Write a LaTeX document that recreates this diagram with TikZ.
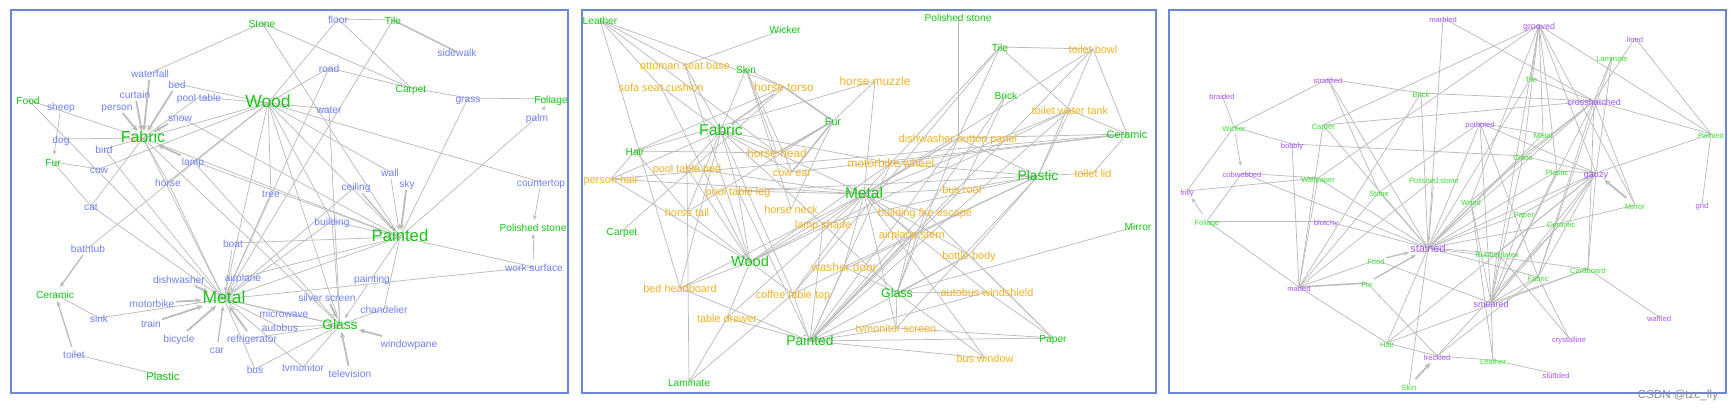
\documentclass[tikz,border=0pt]{standalone}
\usepackage{fontspec}
\setmainfont{Liberation Sans}
\usetikzlibrary{arrows.meta,backgrounds}
\definecolor{bl}{RGB}{112,128,250}
\definecolor{gr}{RGB}{20,200,20}
\definecolor{grc}{RGB}{60,225,50}
\definecolor{orn}{RGB}{245,178,35}
\definecolor{pur}{RGB}{165,85,255}
\definecolor{eg}{RGB}{188,188,188}
\definecolor{fr}{RGB}{105,135,210}
\definecolor{wm}{RGB}{140,140,140}
\newcommand\fsz[1]{\fontsize{#1}{#1}\selectfont}
\tikzset{
 lab/.style={inner sep=1pt,text height=1.05em,text depth=0.1em},
 bA/.style={lab,text=bl,font=\fsz{10.2}},
 gA/.style={lab,text=gr,font=\fsz{10.2}},
 oB/.style={lab,text=orn,font=\fsz{10.9}},
 gB/.style={lab,text=gr,font=\fsz{10.2}},
 pC/.style={lab,text=pur,font=\fsz{7.6}},
 gC/.style={lab,text=grc,font=\fsz{7.6}},
 e/.style={draw=eg,line width=0.75pt},
 ta/.style={draw=eg,line width=0.75pt,-{Stealth[length=5pt,width=4pt]}},
 ma/.style={draw=eg,line width=1.3pt,-{Stealth[length=5.5pt,width=4.5pt]}},
 ea/.style={draw=eg,line width=1.8pt,-{Stealth[length=6pt,width=5.5pt]}},
 tk/.style={draw=eg,line width=1.5pt},
 frame/.style={draw=fr,line width=1.3pt}
}
\begin{document}
\begin{tikzpicture}[x=1pt,y=-1pt]
\useasboundingbox (0,0) rectangle (1735,412);
\draw[frame] (11,10) rectangle (568,393);
\draw[frame] (582,10) rectangle (1156,393);
\draw[frame] (1169,10) rectangle (1726,393);
% ---------------- Panel A ----------------
\foreach \n/\x/\y/\t in {floor/338/19/floor, sidewalk/457/52/sidewalk, road/329/68/road, waterfall/150/73/waterfall, bed/177/84/bed, curtain/135/94/curtain, pooltable/199/97/pool table, grass/468/98/grass, sheep/61/106/sheep, person/117/106/person, water/329/109/water, palm/537/117/palm, snow/180/117/snow, dog/61/139/dog, bird/104/149/bird, lamp/193/161/lamp, cow/99/169/cow, wall/390/172/wall, horse/168/182/horse, countertop/541/182/countertop, sky/407/183/sky, ceiling/356/186/ceiling, tree/271/193/tree, cat/91/206/cat, building/332/221/building, boat/233/243/boat, bathtub/88/248/bathtub, worksurface/534/267/work surface, painting/372/278/painting, airplane/243/277/airplane, dishwasher/179/279/dishwasher, silverscreen/327/297/silver screen, motorbike/152/303/motorbike, chandelier/384/309/chandelier, microwave/284/313/microwave, sink/99/318/sink, train/151/323/train, autobus/280/327/autobus, refrigerator/252/338/refrigerator, bicycle/179/338/bicycle, windowpane/409/343/windowpane, car/217/349/car, toilet/74/354/toilet, tvmonitor/303/367/tvmonitor, bus/255/369/bus, television/350/373/television}
  \node[bA] (A\n) at (\x,\y) {\t};
\foreach \n/\x/\y/\t in {stone/262/23/Stone, tile/393/20/Tile, carpet/411/88/Carpet, foliage/551/99/Foliage, food/28/100/Food, fur/53/162/Fur, ceramic/55/294/Ceramic, polished/533/227/Polished stone}
  \node[gA] (A\n) at (\x,\y) {\t};
\node[gA,font=\fsz{11.3}] (Aplastic) at (163,376) {Plastic};
\node[gA,font=\fsz{17.5}] (Awood) at (268,103) {Wood};
\node[gA,font=\fsz{16}] (Afabric) at (143,138) {Fabric};
\node[gA,font=\fsz{17.5}] (Ametal) at (224,299) {Metal};
\node[gA,font=\fsz{16.7}] (Apainted) at (400,237) {Painted};
\node[gA,font=\fsz{13.8}] (Aglass) at (340,325) {Glass};
% ---------------- Panel B ----------------
\foreach \n/\x/\y/\t in {ottoman/685/65/ottoman seat base, sofa/661/87/sofa seat cushion, toiletbowl/1093/49/toilet bowl, tank/1070/110/toilet water tank, dishpanel/958/138/dishwasher button panel, ptbed/687/168/pool table bed, phair/611/179/person hair, toiletlid/1093/173/toilet lid, ptleg/738/191/pool table leg, busroof/962/189/bus roof, hneck/791/209/horse neck, htail/687/212/horse tail, fire/925/212/building fire escape, lampshade/823/224/lamp shade, stern/912/234/airplane stern, bottle/969/255/bottle body, bedhead/680/288/bed headboard, windshield/987/292/autobus windshield, coffee/793/294/coffee table top, drawer/727/318/table drawer, tvscreen/896/328/tvmonitor screen, buswin/985/358/bus window, cowear/792/172/cow ear}
  \node[oB] (B\n) at (\x,\y) {\t};
\foreach \n/\x/\y/\t in {torso/784/87/horse torso, muzzle/875/81/horse muzzle, hhead/777/153/horse head, wheel/891/163/motorbike wheel, washer/844/267/washer door}
  \node[oB,font=\fsz{11.9}] (B\n) at (\x,\y) {\t};
\foreach \n/\x/\y/\t in {leather/600/20/Leather, wicker/785/29/Wicker, skin/746/69/Skin, polished/958/17/Polished stone, tile/1000/47/Tile, brick/1006/95/Brick, hair/635/151/Hair, carpet/622/231/Carpet, mirror/1138/226/Mirror, paper/1053/338/Paper, laminate/689/382/Laminate}
  \node[gB] (B\n) at (\x,\y) {\t};
\node[gB,font=\fsz{10.9}] (Bceramic) at (1127,134) {Ceramic};
\node[gB,font=\fsz{10.7}] (Bfur) at (833,121) {Fur};
\node[gB,font=\fsz{15.7}] (Bfabric) at (721,131) {Fabric};
\node[gB,font=\fsz{15.5}] (Bmetal) at (864,194) {Metal};
\node[gB,font=\fsz{14.6}] (Bwood) at (750,262) {Wood};
\node[gB,font=\fsz{13.9}] (Bpainted) at (810,341) {Painted};
\node[gB,font=\fsz{12.5}] (Bglass) at (897,293) {Glass};
\node[gB,font=\fsz{13.8}] (Bplastic) at (1038,176) {Plastic};
% ---------------- Panel C ----------------
\foreach \n/\x/\y/\t in {marbled/1443/18/marbled, stratified/1328/79/stratified, braided/1222/95/braided, bobbly/1292/144/bobbly, cobwebbed/1242/173/cobwebbed, frilly/1187/191/frilly, lined/1635/38/lined, potholed/1480/123/potholed, grid/1702/204/grid, blotchy/1326/221/blotchy, matted/1299/287/matted, freckled/1437/356/freckled, waffled/1659/317/waffled, crystalline/1569/338/crystalline, studded/1556/374/studded}
  \node[pC] (C\n) at (\x,\y) {\t};
\node[pC,font=\fsz{8.8}] (Cgrooved) at (1539,25) {grooved};
\node[pC,font=\fsz{9}] (Ccrosshatched) at (1594,101) {crosshatched};
\node[pC,font=\fsz{9.1}] (Cgauzy) at (1596,173) {gauzy};
\node[pC,font=\fsz{9}] (Csmeared) at (1491,303) {smeared};
\node[pC,font=\fsz{10.9}] (Cstained) at (1428,248) {stained};
\foreach \n/\x/\y/\t in {brick/1421/93/Brick, wicker/1234/127/Wicker, carpet/1323/125/Carpet, wallpaper/1318/178/Wallpaper, stone/1379/192/Stone, polished/1434/179/Polished stone, laminate/1612/57/Laminate, tile/1531/78/Tile, metal/1543/134/Metal, painted/1711/134/Painted, glass/1523/156/Glass, plastic/1557/171/Plastic, mirror/1635/205/Mirror, wood/1471/201/Wood, foliage/1207/221/Foliage, food/1376/260/Food, fur/1367/283/Fur, hair/1387/343/Hair, skin/1409/386/Skin, paper/1524/213/Paper, ceramic/1561/223/Ceramic, rubber/1497/253/{Rubber/latex}, cardboard/1588/269/Cardboard, fabric/1538/277/Fabric, leather/1493/360/Leather}
  \node[gC] (C\n) at (\x,\y) {\t};
\node[text=wm,font=\fsz{11.5},inner sep=0pt] (wmark) at (1678,396) {CSDN @tzc\_fly};
% ---------------- Edges ----------------
\begin{scope}[on background layer]
\foreach \p/\q in {stone/waterfall, stone/carpet, stone/painted, floor/tile, floor/carpet, floor/wood, road/wood, road/carpet, road/metal, carpet/grass, grass/foliage, grass/painted, tile/metal, water/wood, wood/countertop, wood/wall, wood/painted, wood/tree, wood/metal, wood/glass, wood/building, wood/horse, wood/cow, wood/bathtub, wood/bed, wood/pooltable, wood/fabric, food/fabric, food/metal, dog/fabric, bird/fabric, bird/metal, cat/fabric, cat/metal, fur/cow, fur/cat, pooltable/fabric, fabric/painted, fabric/metal, fabric/glass, snow/painted, lamp/painted, tree/metal, sink/ceramic, sink/metal, toilet/plastic, boat/painted, airplane/painted, metal/painted, metal/worksurface, metal/building, metal/glass, building/glass, building/painted, painting/painted, chandelier/painted, chandelier/glass, tvmonitor/glass, tvmonitor/metal, bus/glass, bus/metal, refrigerator/glass, autobus/glass, microwave/glass, microwave/metal, autobus/metal, painted/worksurface, palm/painted, water/glass, horse/metal, horse/fabric, ceiling/metal, lamp/glass}
  \draw[e] (A\p.center) -- (A\q.center);
\foreach \p/\q in {waterfall/fabric, curtain/fabric, bed/fabric, person/fabric, snow/fabric, lamp/fabric, dishwasher/metal, motorbike/metal, train/metal, bicycle/metal, refrigerator/metal, sky/painted, windowpane/glass, television/glass, silverscreen/glass}
  \draw[ea] (A\p) -- (A\q);
\foreach \p/\q in {car/metal, ceiling/painted, bathtub/ceramic, toilet/ceramic}
  \draw[ma] (A\p) -- (A\q);
\foreach \p/\q in {sheep/fur, countertop/polished, worksurface/polished, palm/foliage, airplane/metal, painting/glass, wall/painted, boat/metal}
  \draw[ta] (A\p) -- (A\q);
\draw[tk] (Asidewalk.center) -- (Atile.center);
% panel B
\foreach \p/\q in {leather/ottoman, leather/sofa, leather/bedhead, leather/hhead, leather/torso, wicker/ottoman, skin/cowear, skin/hneck, skin/hhead, skin/torso, skin/htail, fur/muzzle, fur/hneck, fur/htail, hair/phair, hair/htail, hair/torso, hair/hhead, hair/muzzle, carpet/torso, laminate/ptbed, laminate/coffee, laminate/drawer, polished/dishpanel, tile/toiletbowl, tile/dishpanel, tile/tank, tile/coffee, tile/wheel, brick/busroof, brick/fire, mirror/glass, paper/bottle, paper/tvscreen, paper/windshield, paper/painted, paper/fire, ceramic/toiletbowl, ceramic/tank, ceramic/toiletlid, ceramic/dishpanel, ceramic/phair, ceramic/cowear, ceramic/wheel, fabric/ottoman, fabric/sofa, fabric/ptbed, fabric/hhead, fabric/cowear, fabric/lampshade, fabric/bedhead, fabric/wheel, fabric/phair, fabric/ptleg, fabric/coffee, metal/wheel, metal/ptleg, metal/lampshade, metal/washer, metal/busroof, metal/fire, metal/stern, metal/dishpanel, metal/windshield, metal/tvscreen, metal/coffee, metal/bottle, metal/drawer, metal/bedhead, metal/tank, metal/buswin, metal/hhead, metal/ptbed, metal/muzzle, metal/toiletbowl, metal/phair, wood/ptleg, wood/ptbed, wood/drawer, wood/coffee, wood/bedhead, wood/sofa, wood/ottoman, wood/lampshade, wood/dishpanel, wood/phair, wood/htail, wood/wheel, wood/tank, painted/busroof, painted/fire, painted/stern, painted/washer, painted/coffee, painted/drawer, painted/bedhead, painted/lampshade, painted/wheel, painted/tvscreen, painted/buswin, painted/windshield, painted/bottle, painted/tank, painted/dishpanel, painted/ptleg, painted/toiletbowl, glass/tvscreen, glass/windshield, glass/buswin, glass/lampshade, glass/washer, glass/bottle, glass/stern, glass/dishpanel, glass/fire, plastic/toiletlid, plastic/toiletbowl, plastic/tank, plastic/dishpanel, plastic/bottle, plastic/wheel, plastic/busroof, plastic/washer, plastic/tvscreen, plastic/coffee, plastic/lampshade, plastic/ptleg}
  \draw[e] (B\p.center) -- (B\q.center);
\foreach \p/\q in {fur/hhead, fur/cowear, fur/torso}
  \draw[tk] (B\p.center) -- (B\q.center);
\draw[ma] (Btorso) -- (Bfabric);
% panel C
\foreach \p/\q in {marbled/stained, marbled/crosshatched, grooved/carpet, grooved/wallpaper, grooved/tile, grooved/metal, grooved/plastic, grooved/gauzy, grooved/painted, grooved/glass, grooved/wood, grooved/mirror, grooved/smeared, lined/painted, lined/crosshatched, laminate/crosshatched, laminate/gauzy, laminate/fabric, tile/crosshatched, tile/stained, crosshatched/brick, crosshatched/carpet, crosshatched/painted, crosshatched/mirror, crosshatched/wood, crosshatched/smeared, crosshatched/fabric, crosshatched/cardboard, crosshatched/stained, crosshatched/glass, potholed/gauzy, potholed/smeared, potholed/stone, potholed/stained, potholed/fabric, gauzy/painted, gauzy/plastic, gauzy/glass, gauzy/stained, gauzy/smeared, gauzy/fabric, gauzy/ceramic, gauzy/paper, gauzy/rubber, gauzy/cardboard, gauzy/hair, stained/blotchy, stained/wallpaper, stained/stone, stained/rubber, stained/cardboard, stained/ceramic, stained/paper, stained/carpet, stained/stratified, stained/brick, stained/glass, stained/metal, stained/wood, stained/plastic, stained/fabric, stained/skin, stained/hair, stained/cobwebbed, smeared/fabric, smeared/rubber, smeared/cardboard, smeared/leather, smeared/wood, smeared/glass, smeared/plastic, smeared/paper, smeared/ceramic, smeared/food, matted/foliage, matted/food, matted/hair, matted/carpet, matted/wallpaper, matted/stone, matted/brick, matted/polished, freckled/hair, freckled/fur, freckled/leather, freckled/fabric, freckled/ceramic, leather/studded, leather/wood, cardboard/waffled, crystalline/rubber, crystalline/fabric, wicker/braided, wicker/stratified, wicker/bobbly, wicker/frilly, cobwebbed/wallpaper, cobwebbed/foliage, frilly/wallpaper, foliage/blotchy, stratified/brick, stratified/stone, bobbly/glass, bobbly/matted, mirror/ceramic, painted/grid, hair/cardboard, metal/potholed}
  \draw[e] (C\p.center) -- (C\q.center);
\draw[tk] (Cfur.center) -- (Cmatted.center);
\foreach \p/\q in {skin/freckled, mirror/gauzy}
  \draw[ea] (C\p) -- (C\q);
\foreach \p/\q in {food/stained, fur/stained}
  \draw[ma] (C\p) -- (C\q);
\foreach \p/\q in {wicker/cobwebbed, foliage/frilly, polished/stained}
  \draw[ta] (C\p) -- (C\q);
\end{scope}
\end{tikzpicture}
\end{document}
